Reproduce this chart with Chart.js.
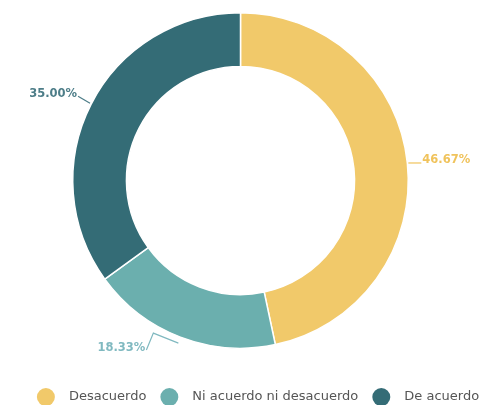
<!DOCTYPE html>
<html>
<head>
<meta charset="utf-8">
<script src="https://cdn.jsdelivr.net/npm/chart.js@4/dist/chart.umd.min.js"></script>
<style>
  html, body { margin: 0; padding: 0; background: #ffffff; }
  #wrap { width: 482px; height: 405px; }
</style>
</head>
<body>
<div id="wrap"><canvas id="c" width="482" height="405"></canvas></div>
<script>
// ---- data ----
const categories = ['Desacuerdo', 'Ni acuerdo ni desacuerdo', 'De acuerdo'];
const values = [46.67, 18.33, 35.00];

// ---- styles ----
const sliceColors = ['#F1C96A', '#6BAFAE', '#346C76'];
const labelColors = ['#F0C35C', '#80B9C0', '#4D7D88'];
// leader-line shapes relative to the slice's outer edge point (style only)
const leaderPaths = [
  { pts: [[1, 0], [14, 0]], align: 'left', tx: 1, ty: -3 },
  { pts: [[-2, 6], [-27, -4], [-34, 13]], align: 'right', tx: -1, ty: -2 },
  { pts: [[-1, -1], [-13, -8]], align: 'right', tx: -1, ty: -2 }
];

const labelPlugin = {
  id: 'sliceLabels',
  afterDatasetsDraw(chart) {
    const ctx = chart.ctx;
    const meta = chart.getDatasetMeta(0);
    ctx.save();
    ctx.font = 'bold 11.5px "DejaVu Sans"';
    ctx.textBaseline = 'middle';
    meta.data.forEach((arc, i) => {
      const p = arc.getProps(['x', 'y', 'startAngle', 'endAngle', 'outerRadius'], true);
      const mid = (p.startAngle + p.endAngle) / 2;
      const ex = p.x + Math.cos(mid) * p.outerRadius;
      const ey = p.y + Math.sin(mid) * p.outerRadius;
      const lp = leaderPaths[i];
      ctx.strokeStyle = labelColors[i];
      ctx.lineWidth = 1.2;
      ctx.beginPath();
      lp.pts.forEach((pt, k) => {
        const X = ex + pt[0], Y = ey + pt[1];
        if (k === 0) ctx.moveTo(X, Y); else ctx.lineTo(X, Y);
      });
      ctx.stroke();
      const last = lp.pts[lp.pts.length - 1];
      ctx.fillStyle = labelColors[i];
      ctx.textAlign = lp.align;
      ctx.fillText(values[i].toFixed(2) + '%', ex + last[0] + lp.tx, ey + last[1] + lp.ty);
    });
    ctx.restore();
  }
};

const legendPlugin = {
  id: 'customLegend',
  afterDraw(chart) {
    const ctx = chart.ctx;
    ctx.save();
    ctx.font = '13px "DejaVu Sans"';
    ctx.textBaseline = 'middle';
    ctx.textAlign = 'left';
    const r = 9, gapBox = 14, gapItem = 14;
    const widths = categories.map(c => ctx.measureText(c).width);
    let total = 0;
    widths.forEach((w, i) => { total += 2 * r + gapBox + w + (i < widths.length - 1 ? gapItem : 0); });
    let x = 258 - total / 2;
    const y = 397;
    categories.forEach((c, i) => {
      ctx.fillStyle = sliceColors[i];
      ctx.beginPath();
      ctx.arc(x + r, y, r, 0, Math.PI * 2);
      ctx.fill();
      x += 2 * r + gapBox;
      ctx.fillStyle = '#555555';
      ctx.fillText(c, x, y);
      x += widths[i] + gapItem;
    });
    ctx.restore();
  }
};

new Chart(document.getElementById('c'), {
  type: 'doughnut',
  data: {
    labels: categories,
    datasets: [{
      data: values,
      backgroundColor: sliceColors,
      borderColor: '#ffffff',
      borderWidth: 1.5,
      hoverOffset: 0
    }]
  },
  options: {
    responsive: false,
    animation: false,
    cutout: '68%',
    layout: { padding: { top: 12, bottom: 56, left: 0, right: 1 } },
    plugins: {
      legend: { display: false },
      tooltip: { enabled: false }
    }
  },
  plugins: [labelPlugin, legendPlugin]
});
</script>
</body>
</html>
